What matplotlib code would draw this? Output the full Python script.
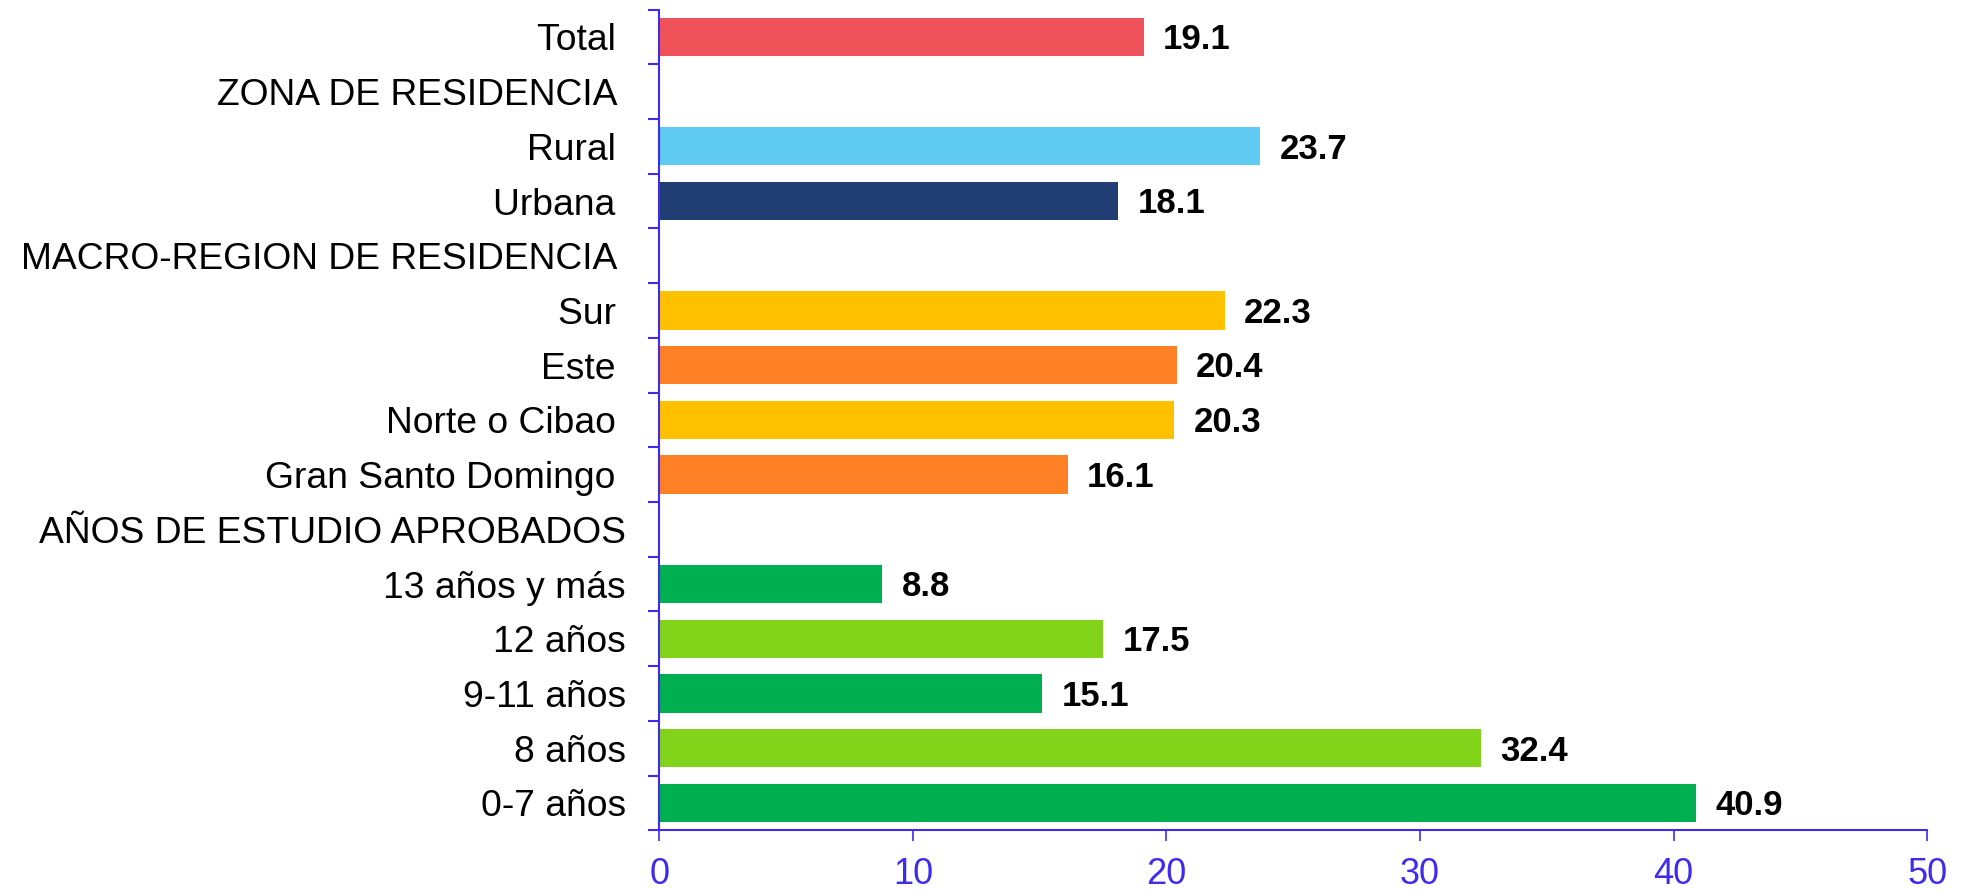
import matplotlib.pyplot as plt
import numpy as np

plt.rcParams['font.family'] = ['Liberation Sans', 'DejaVu Sans']

# categories from top to bottom; None = section header (no bar)
categories = ['Total ', 'ZONA DE RESIDENCIA ', 'Rural ', 'Urbana ',
              'MACRO-REGION DE RESIDENCIA ', 'Sur ', 'Este ', 'Norte o Cibao ',
              'Gran Santo Domingo ', 'AÑOS DE ESTUDIO APROBADOS',
              '13 años y más', '12 años', '9-11 años', '8 años', '0-7 años']
values = [19.1, None, 23.7, 18.1, None, 22.3, 20.4, 20.3, 16.1, None,
          8.8, 17.5, 15.1, 32.4, 40.9]
colors = ['#F0525A', None, '#5FCBF2', '#203D74', None, '#FFC000', '#FF8025',
          '#FFC000', '#FF8025', None, '#00B050', '#81D41A', '#00B050',
          '#81D41A', '#00B050']

axis_blue = '#3F2BF0'

fig = plt.figure(figsize=(19.62, 8.91), dpi=100)
ax = fig.add_axes([0.336, 0.0681, 0.6463, 0.9212])

pos = np.arange(len(categories))
for y, v, c in zip(pos, values, colors):
    if v is None:
        continue
    ax.barh(y, v, height=0.70, color=c)
    ax.annotate(f'{v:.1f}', xy=(v, y), xytext=(14, -2), textcoords='offset points',
                va='center', ha='left', fontsize=25, fontweight='bold', color='black')

ax.set_ylim(len(categories) - 0.5, -0.5)
ax.set_xlim(0, 50)
ax.set_yticks(pos)
ax.set_yticklabels(categories, fontsize=26.8)
ax.set_yticks(np.arange(-0.5, len(categories), 1.0), minor=True)
ax.tick_params(axis='y', which='major', length=0, pad=24)
ax.tick_params(axis='y', which='minor', length=8, width=1.5, color=axis_blue)
ax.set_xticks(np.arange(0, 51, 10))
ax.tick_params(axis='x', length=8, width=1.2, color=axis_blue,
               labelcolor=axis_blue, labelsize=26, pad=11)

for side in ['top', 'right']:
    ax.spines[side].set_visible(False)
for side in ['left', 'bottom']:
    ax.spines[side].set_color(axis_blue)
    ax.spines[side].set_linewidth(1.5)

fig.savefig('out.png', dpi=100)
